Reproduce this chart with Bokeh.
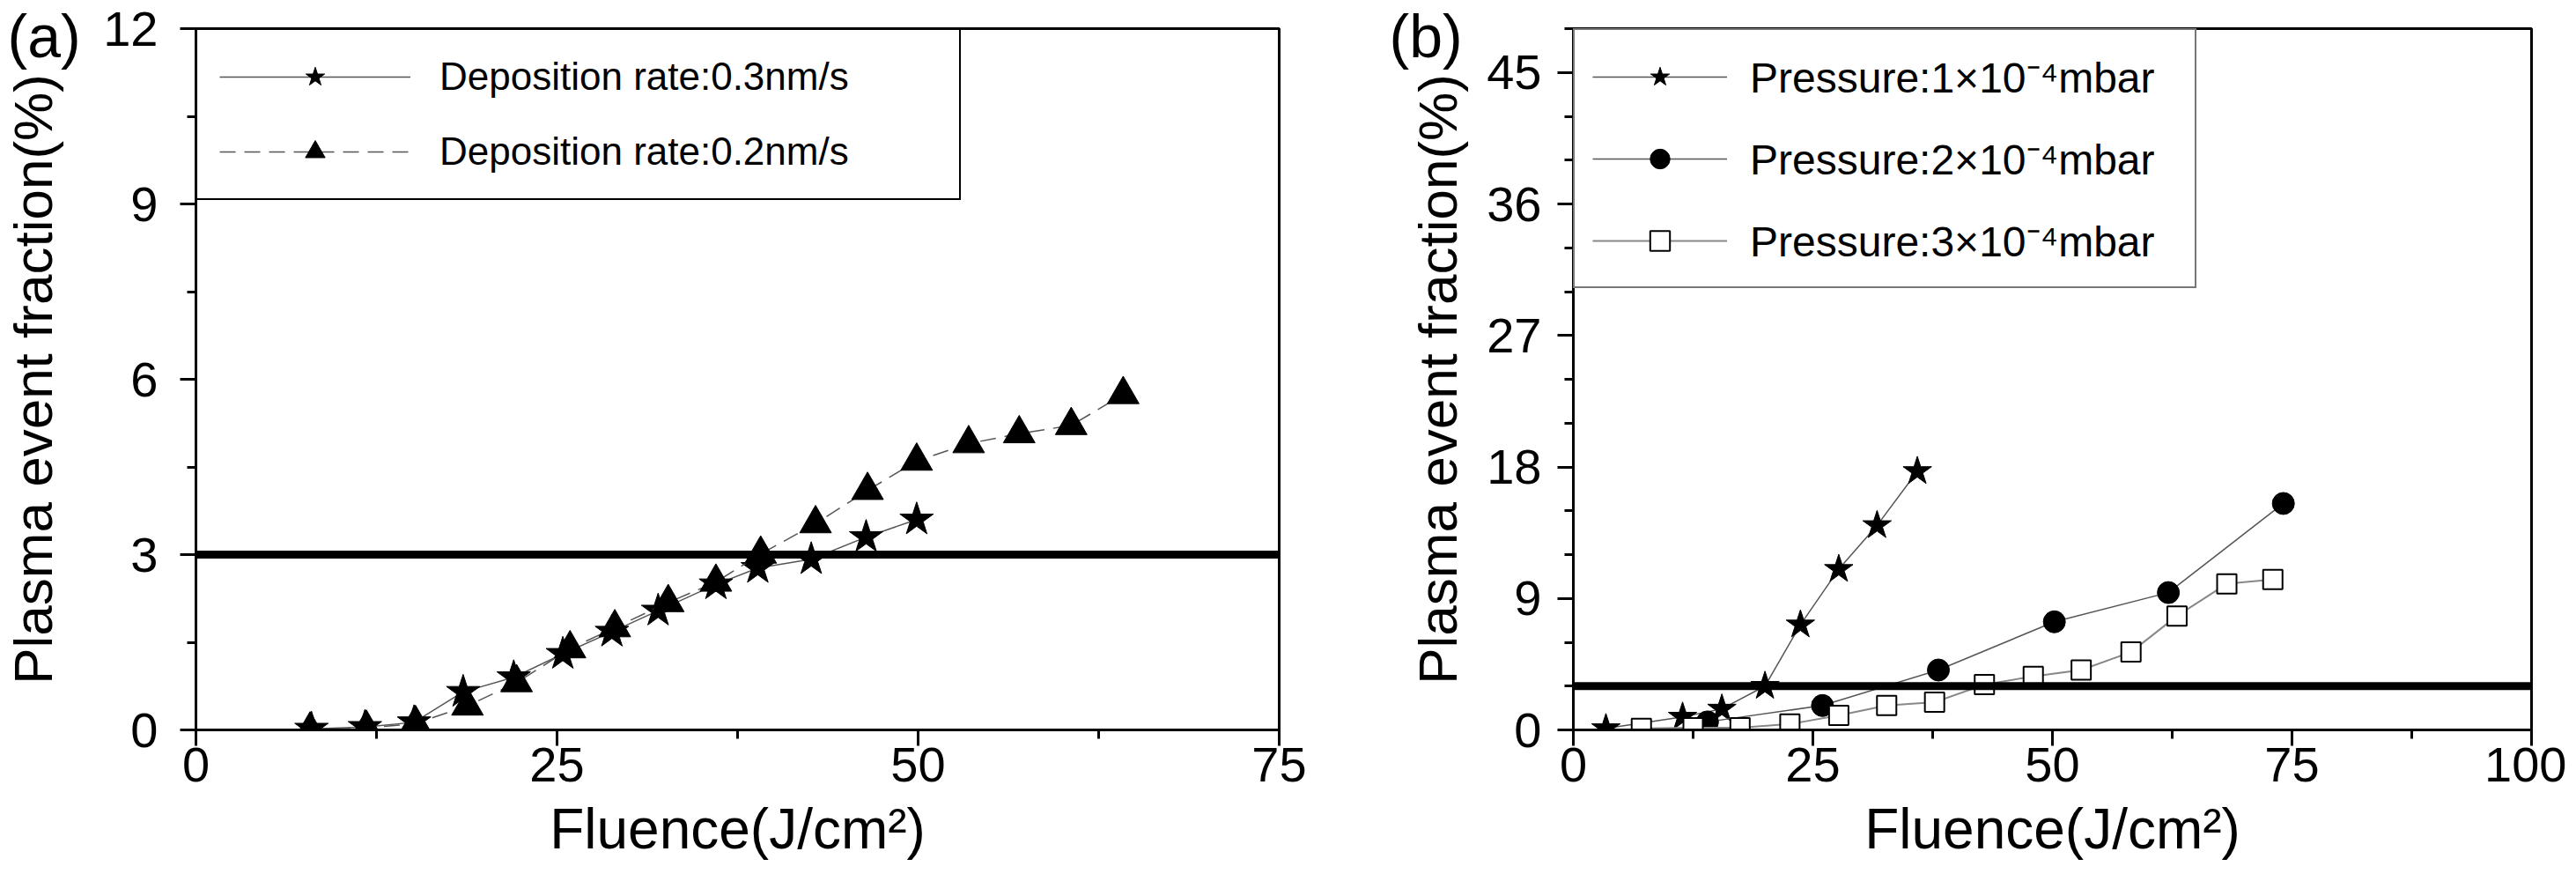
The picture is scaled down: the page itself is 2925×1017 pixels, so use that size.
from bokeh.plotting import figure
from bokeh.models import SingleIntervalTicker, Span
from bokeh.layouts import row
from bokeh.embed import file_html
from bokeh.resources import INLINE

FONT = "Liberation Sans"

# (a) deposition rate series
rate03_x = [8.0, 11.7, 15.1, 18.5, 22.0, 25.4, 28.8, 32.0, 36.0, 38.9, 42.6, 46.4, 49.9]
rate03_y = [0.02, 0.05, 0.13, 0.65, 0.90, 1.30, 1.68, 2.04, 2.49, 2.77, 2.92, 3.30, 3.60]
rate02_x = [7.9, 11.8, 15.2, 18.8, 22.2, 25.9, 29.0, 32.7, 36.0, 39.1, 42.9, 46.5,
            49.9, 53.5, 57.0, 60.6, 64.2]
rate02_y = [0.0, 0.03, 0.11, 0.41, 0.81, 1.39, 1.75, 2.18, 2.53, 3.01, 3.53, 4.10,
            4.60, 4.90, 5.07, 5.21, 5.74]

# (b) pressure series
p1_x = [3.4, 11.4, 15.5, 20.0, 23.7, 27.7, 31.7, 35.9]
p1_y = [0.1, 0.89, 1.44, 3.0, 7.2, 11.0, 14.0, 17.7]
p2_x = [14.0, 26.0, 38.1, 50.2, 62.1, 74.1]
p2_y = [0.55, 1.67, 4.1, 7.4, 9.4, 15.5]
p3_x = [7.1, 12.5, 17.4, 22.6, 27.7, 32.7, 37.7, 42.9, 48.0, 53.0, 58.2, 63.0, 68.2, 73.0]
p3_y = [0.1, 0.15, 0.15, 0.4, 1.0, 1.67, 1.9, 3.1, 3.67, 4.1, 5.33, 7.8, 10.0, 10.3]

THRESHOLD = 3

X_LABEL = "Fluence(J/cm²)"
Y_LABEL = "Plasma event fraction(%)"
labels_a = ["Deposition rate:0.3nm/s", "Deposition rate:0.2nm/s"]
labels_b = ["Pressure:1×10⁻⁴mbar", "Pressure:2×10⁻⁴mbar", "Pressure:3×10⁻⁴mbar"]


def make_panel(tag, tag_offset, x_end, y_end, x_step, y_step, y_minor, frame_width,
               border_left, border_right, tick_standoff, ylabel_standoff):
    p = figure(
        x_range=(0, x_end), y_range=(0, y_end),
        frame_width=frame_width, frame_height=796,
        min_border_left=border_left, min_border_right=border_right,
        min_border_top=32, min_border_bottom=150,
        output_backend="svg", toolbar_location=None,
    )
    # panel letter: title pulled left of the y axis and down beside the frame top
    p.title.text = tag
    p.title.align = "left"
    p.title.offset = tag_offset
    p.title.standoff = -92
    p.title.text_font = FONT
    p.title.text_font_size = "68px"
    p.title.text_font_style = "normal"
    p.title.text_color = "black"

    p.xgrid.visible = False
    p.ygrid.visible = False
    p.outline_line_color = "black"
    p.outline_line_width = 3
    p.outline_line_alpha = 1

    p.xaxis.ticker = SingleIntervalTicker(interval=x_step, num_minor_ticks=2)
    p.yaxis.ticker = SingleIntervalTicker(interval=y_step, num_minor_ticks=y_minor)
    p.xaxis.axis_label = X_LABEL
    p.yaxis.axis_label = Y_LABEL
    for ax in p.axis:
        ax.axis_line_width = 3
        ax.axis_line_color = "black"
        ax.major_tick_line_width = 3
        ax.minor_tick_line_width = 3
        ax.major_tick_line_color = "black"
        ax.minor_tick_line_color = "black"
        ax.major_tick_in = 0
        ax.minor_tick_in = 0
        ax.major_tick_out = 18
        ax.minor_tick_out = 10
        ax.major_label_text_font = FONT
        ax.major_label_text_font_size = "56px"
        ax.major_label_text_color = "black"
        ax.axis_label_text_font = FONT
        ax.axis_label_text_font_style = "normal"
        ax.axis_label_text_color = "black"
    p.xaxis.axis_label_text_font_size = "64px"
    p.yaxis.axis_label_text_font_size = "62px"
    p.xaxis.major_label_standoff = 2
    p.xaxis.axis_label_standoff = 15
    p.yaxis.major_label_standoff = tick_standoff
    p.yaxis.axis_label_standoff = ylabel_standoff

    p.add_layout(Span(location=THRESHOLD, dimension="width",
                      line_color="black", line_width=9))
    return p


def style_legend(p, font_size, padding, spacing, glyph_width, label_width, standoff, border):
    lg = p.legend[0]
    lg.location = "top_left"
    lg.margin = 0
    lg.padding = padding
    lg.spacing = spacing
    lg.glyph_width = glyph_width
    lg.glyph_height = 56
    lg.label_height = 56
    lg.label_width = label_width
    lg.label_standoff = standoff
    lg.label_text_font = FONT
    lg.label_text_font_size = font_size
    lg.label_text_color = "black"
    lg.border_line_color = border
    lg.border_line_width = 2
    lg.border_line_alpha = 1
    lg.background_fill_alpha = 1


# panel (a)
pa = make_panel("(a)", -214, 75, 12, 25, 3, 2, 1230, 214, 60, 25, 42)
pa.line(rate03_x, rate03_y, line_color="#555555", line_width=1.5, legend_label=labels_a[0])
pa.scatter(rate03_x, rate03_y, marker="star", size=40, color="black", legend_label=labels_a[0])
pa.line(rate02_x, rate02_y, line_color="#555555", line_width=1.5, line_dash="18 10",
        legend_label=labels_a[1])
pa.scatter(rate02_x, rate02_y, marker="triangle", size=36, color="black", legend_label=labels_a[1])
style_legend(pa, "44px", 25, 29, 217, 565, 33, "black")

# panel (b)
pb = make_panel("(b)", -209, 100, 48, 25, 9, 3, 1088, 274, 40, 18, 18)
pb.line(p1_x, p1_y, line_color="#555555", line_width=1.5, legend_label=labels_b[0])
pb.scatter(p1_x, p1_y, marker="star", size=34, color="black", legend_label=labels_b[0])
pb.line(p2_x, p2_y, line_color="#555555", line_width=1.5, legend_label=labels_b[1])
pb.scatter(p2_x, p2_y, marker="circle", size=25, color="black", legend_label=labels_b[1])
pb.line(p3_x, p3_y, line_color="#888888", line_width=2, legend_label=labels_b[2])
pb.scatter(p3_x, p3_y, marker="square", size=22, fill_color="white", line_color="black",
           line_width=2, legend_label=labels_b[2])
style_legend(pb, "48px", 20, 28, 153, 485, 26, "#777777")

layout = row(pa, pb)
open("out.html", "w").write(file_html(layout, INLINE))
